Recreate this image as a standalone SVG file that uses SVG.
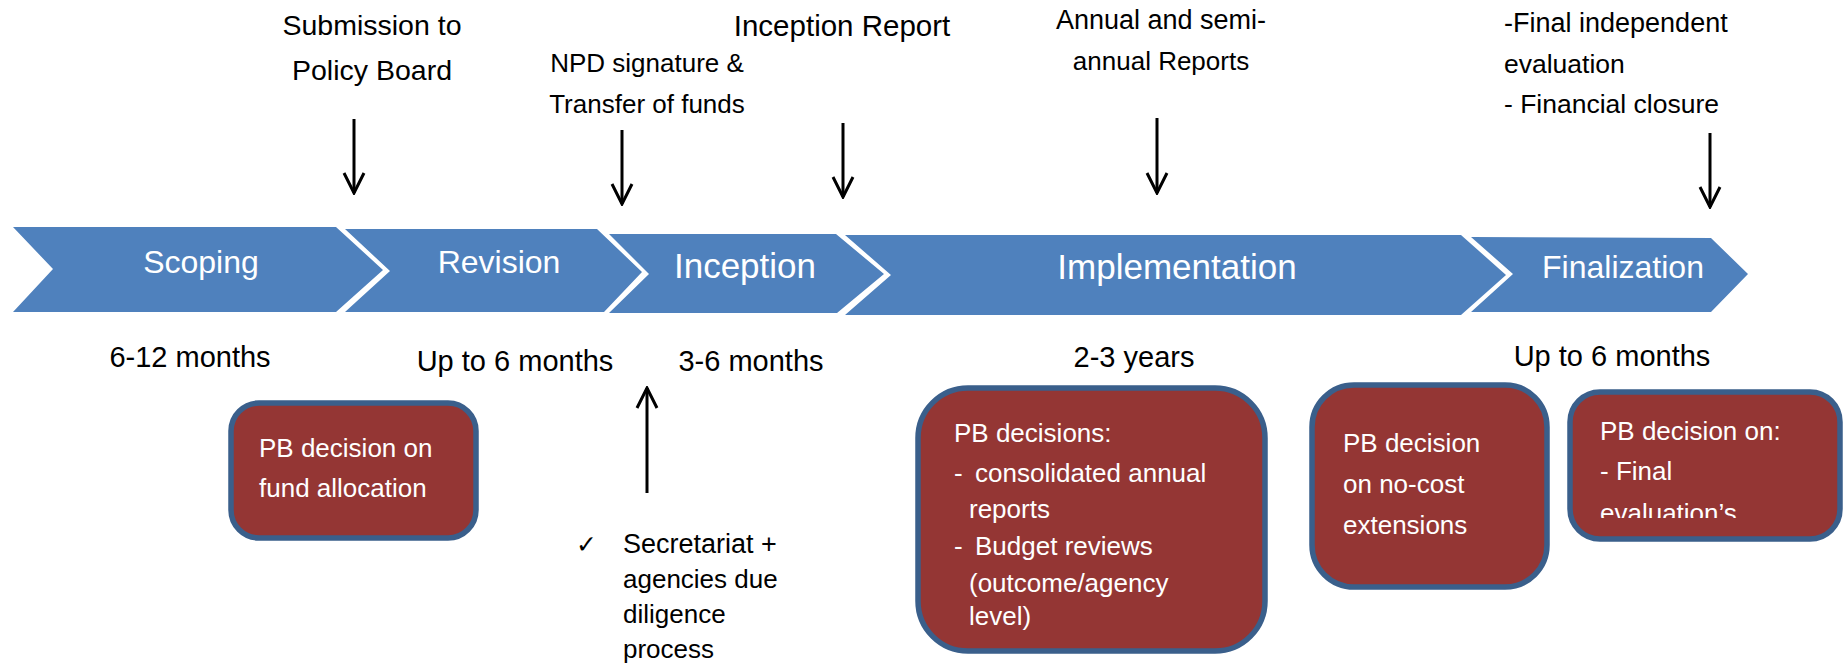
<svg xmlns="http://www.w3.org/2000/svg" width="1845" height="667" viewBox="0 0 1845 667">
<style>
.chev{fill:#4F81BD}
.chevt{font-family:"Liberation Sans",Arial,sans-serif;font-size:32px;fill:#fff;text-anchor:middle}
.big{font-size:35px}
.lbl{font-family:"Liberation Sans",Arial,sans-serif;fill:#000}
.mid{text-anchor:middle}
.dur{font-size:29px}
.box{fill:#943634;stroke:#3A5F8B;stroke-width:5.5}
.bt{font-family:"Liberation Sans",Arial,sans-serif;font-size:26px;fill:#fff}
.arr{stroke:#000;stroke-width:3;fill:none;marker-end:url(#vhead)}
</style>
<defs>
<marker id="vhead" viewBox="0 0 24 24" refX="22" refY="12" markerWidth="24" markerHeight="24" orient="auto" markerUnits="userSpaceOnUse">
<path d="M2,2 L22,12 L2,22" fill="none" stroke="#000" stroke-width="3" stroke-linejoin="miter"/>
</marker>
<clipPath id="clip4"><rect x="1560" y="385" width="285" height="133"/></clipPath>
</defs>

<g id="phase-scoping">
<path class="chev" d="M13,227 L336,227 L383,270 L336,312 L13,312 L53,269 Z"/>
<text class="chevt" x="201" y="273">Scoping</text>
</g>
<g id="phase-revision">
<path class="chev" d="M345,229 L597,229 L642,272 L604,312 L345,312 L390,271 Z"/>
<text class="chevt" x="499" y="273">Revision</text>
</g>
<g id="phase-inception">
<path class="chev" d="M609,234 L836,234 L884,274 L837,313 L609,313 L649,274 Z"/>
<text class="chevt big" x="745" y="278">Inception</text>
</g>
<g id="phase-implementation">
<path class="chev" d="M845,235 L1461,235 L1506,275 L1461,315 L845,315 L891,275 Z"/>
<text class="chevt big" x="1177" y="279">Implementation</text>
</g>
<g id="phase-finalization">
<path class="chev" d="M1471,237 L1711,238 L1748,274 L1711,312 L1471,312 L1513,274 Z"/>
<text class="chevt" font-size="34.5" x="1623" y="278">Finalization</text>
</g>

<g id="milestone-submission">
<text class="lbl mid" font-size="28.5" x="372" y="35">Submission to</text>
<text class="lbl mid" font-size="28.5" x="372" y="80">Policy Board</text>
</g>
<g id="milestone-npd">
<text class="lbl mid" font-size="26" x="647" y="72">NPD signature &amp;</text>
<text class="lbl mid" font-size="26" x="647" y="113">Transfer of funds</text>
</g>
<g id="milestone-inception-report">
<text class="lbl mid" font-size="29.5" x="842" y="36">Inception Report</text>
</g>
<g id="milestone-annual">
<text class="lbl mid" font-size="27" x="1161" y="29">Annual and semi-</text>
<text class="lbl mid" font-size="26" x="1161" y="70">annual Reports</text>
</g>
<g id="milestone-final">
<text class="lbl" font-size="27" x="1504" y="32">-Final independent</text>
<text class="lbl" font-size="26.5" x="1504" y="73">evaluation</text>
<text class="lbl" font-size="26.5" x="1504" y="113">- Financial closure</text>
</g>

<g id="durations">
<text class="lbl mid dur" x="190" y="367">6-12 months</text>
<text class="lbl mid dur" x="515" y="371">Up to 6 months</text>
<text class="lbl mid dur" x="751" y="371">3-6 months</text>
<text class="lbl mid dur" x="1134" y="367">2-3 years</text>
<text class="lbl mid dur" x="1612" y="366">Up to 6 months</text>
</g>

<g id="due-diligence">
<text x="576" y="553" font-family="DejaVu Sans,sans-serif" font-size="25" fill="#000">✓</text>
<text class="lbl" font-size="27" x="623" y="553">Secretariat +</text>
<text class="lbl" font-size="26" x="623" y="588">agencies due</text>
<text class="lbl" font-size="26" x="623" y="623">diligence</text>
<text class="lbl" font-size="26" x="623" y="658">process</text>
</g>

<g id="box-fund-allocation">
<rect class="box" x="231" y="403" width="245" height="135" rx="28"/>
<text class="bt" x="259" y="457">PB decision on</text>
<text class="bt" x="259" y="497">fund allocation</text>
</g>
<g id="box-pb-decisions">
<rect class="box" x="918" y="388" width="347" height="263" rx="50"/>
<text class="bt" x="954" y="442">PB decisions:</text>
<text class="bt" x="954" y="482">-</text>
<text class="bt" font-size="26.5" x="975" y="482">consolidated annual</text>
<text class="bt" x="969" y="518">reports</text>
<text class="bt" x="954" y="555">-</text>
<text class="bt" x="975" y="555">Budget reviews</text>
<text class="bt" x="969" y="592">(outcome/agency</text>
<text class="bt" x="969" y="625">level)</text>
</g>
<g id="box-no-cost">
<rect class="box" x="1312" y="385" width="235" height="202" rx="42"/>
<text class="bt" x="1343" y="452">PB decision</text>
<text class="bt" x="1343" y="493">on no-cost</text>
<text class="bt" x="1343" y="534">extensions</text>
</g>
<g id="box-final-eval">
<rect class="box" x="1570" y="392" width="270" height="147" rx="30"/>
<g clip-path="url(#clip4)">
<text class="bt" x="1600" y="440">PB decision on:</text>
<text class="bt" x="1600" y="480">- Final</text>
<text class="bt" x="1600" y="522">evaluation’s</text>
</g>
</g>

<g id="connectors">
<line class="arr" x1="354" y1="119" x2="354" y2="193"/>
<line class="arr" x1="622" y1="130" x2="622" y2="204"/>
<line class="arr" x1="843" y1="123" x2="843" y2="197"/>
<line class="arr" x1="1157" y1="118" x2="1157" y2="193"/>
<line class="arr" x1="1710" y1="133" x2="1710" y2="207"/>
<line class="arr" x1="647" y1="493" x2="647" y2="388"/>
</g>
</svg>
